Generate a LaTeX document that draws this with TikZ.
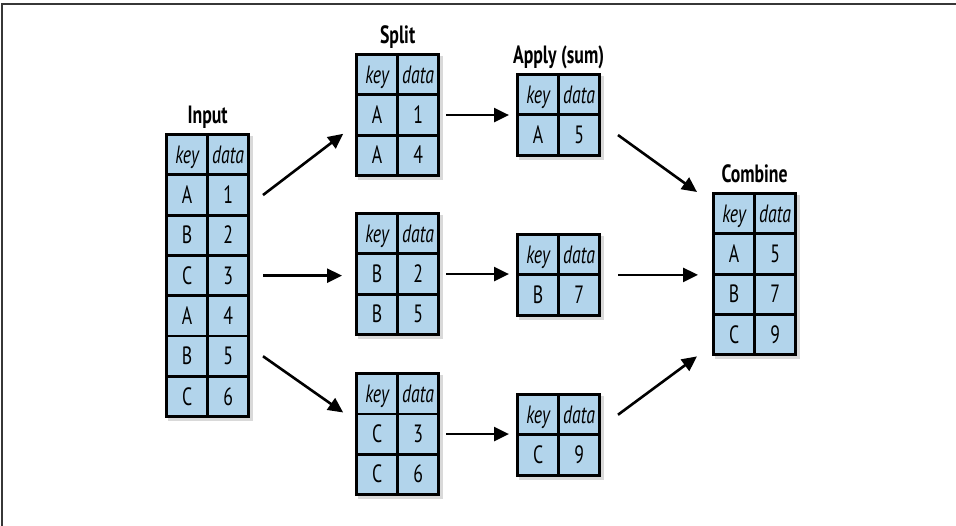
\documentclass[tikz,border=0pt]{standalone}
\usepackage{fontspec}
\setmainfont{PT Sans}[FakeStretch=0.71]
\usetikzlibrary{arrows.meta,positioning,matrix,shadows}

\definecolor{cellblue}{RGB}{178,212,235}
\definecolor{framegray}{RGB}{55,55,55}

\tikzset{
  tbl/.style={matrix of nodes, inner sep=0pt, anchor=north west,
    row sep=-2.8pt, column sep=-2.8pt,
    drop shadow={shadow xshift=3pt, shadow yshift=-3pt, opacity=0.3},
    nodes={draw, line width=2.8pt, fill=cellblue, minimum width=41pt,
      minimum height=40.3pt, inner sep=0pt, text height=17pt, text depth=0pt,
      font=\fontsize{25}{25}\selectfont},
    row 1/.style={nodes={font=\fontsize{25}{25}\selectfont\itshape}}},
  lbl/.style={font=\fontsize{25}{25}\selectfont\bfseries, inner sep=0pt, text depth=0pt},
  arr/.style={line width=2.6pt, -{Triangle[length=15pt,width=14pt]}}
}

\begin{document}
\begin{tikzpicture}[x=1pt, y=-1pt, node distance=9pt]
  \useasboundingbox (0,0) rectangle (956,526);
  \draw[framegray, line width=2pt] (2,526) -- (2,4) -- (956,4);

  % tables
  \matrix[tbl] (input) at (165,133) {
    key & data \\ A & 1 \\ B & 2 \\ C & 3 \\ A & 4 \\ B & 5 \\ C & 6 \\
  };
  \matrix[tbl] (split1) at (355,53) { key & data \\ A & 1 \\ A & 4 \\ };
  \matrix[tbl] (split2) at (355,212) { key & data \\ B & 2 \\ B & 5 \\ };
  \matrix[tbl] (split3) at (355,372) { key & data \\ C & 3 \\ C & 6 \\ };
  \matrix[tbl] (apply1) at (516,73) { key & data \\ A & 5 \\ };
  \matrix[tbl] (apply2) at (516,233) { key & data \\ B & 7 \\ };
  \matrix[tbl] (apply3) at (516,393) { key & data \\ C & 9 \\ };
  \matrix[tbl] (combine) at (712,192) {
    key & data \\ A & 5 \\ B & 7 \\ C & 9 \\
  };

  % titles
  \node[lbl, above=of input] (inputlbl) {Input};
  \node[lbl, above=of split1] (splitlbl) {Split};
  \node[lbl, above=of apply1] (applylbl) {Apply (sum)};
  \node[lbl, above=of combine] (combinelbl) {Combine};

  % split
  \draw[arr] ([xshift=13pt]input-2-2.east) -- ([xshift=-12pt]split1-3-1.north west);
  \draw[arr, shorten <=13pt, shorten >=13pt] (input-4-2.east) -- (input-4-2.east -| split2.west);
  \draw[arr] ([xshift=13pt]input-6-2.east) -- ([xshift=-12pt]split3-2-1.north west);
  % apply
  \draw[arr, shorten <=6pt, shorten >=7pt] (split1-2-2.east) -- (split1-2-2.east -| apply1.west);
  \draw[arr, shorten <=6pt, shorten >=7pt] (split2-2-2.east) -- (split2-2-2.east -| apply2.west);
  \draw[arr, shorten <=6pt, shorten >=7pt] (split3-2-2.east) -- (split3-2-2.east -| apply3.west);
  % combine
  \draw[arr] ([xshift=17pt]apply1-2-2.east) -- ([xshift=-15pt]combine.north west);
  \draw[arr, shorten <=17pt, shorten >=14pt] (apply2.east) -- (apply2.east -| combine.west);
  \draw[arr] ([xshift=17pt]apply3-1-2.east) -- ([xshift=-15pt]combine.south west);
\end{tikzpicture}
\end{document}
